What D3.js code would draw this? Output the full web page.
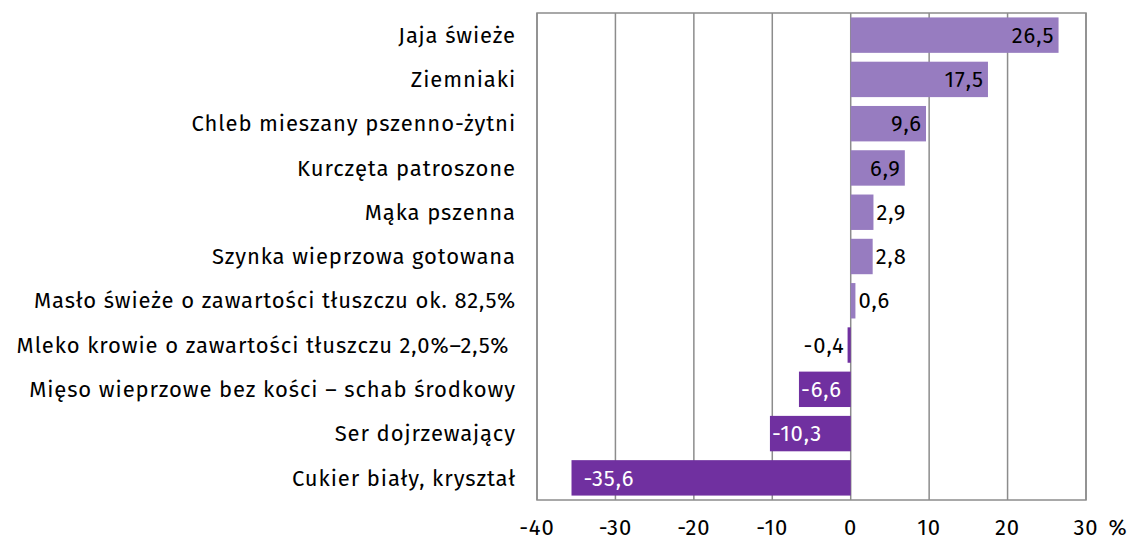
<!DOCTYPE html>
<html>
<head>
<style>
  body { margin: 0; background: #fff; }
  text { font-family: "Fira Sans", "Noto Sans", sans-serif; letter-spacing: 0.9px; }
</style>
</head>
<body>
<svg width="1129" height="540"></svg>
<script src="https://d3js.org/d3.v7.min.js"></script>
<script>
    const categories = [
        "Jaja świeże",
        "Ziemniaki",
        "Chleb mieszany pszenno-żytni",
        "Kurczęta patroszone",
        "Mąka pszenna",
        "Szynka wieprzowa gotowana",
        "Masło świeże o zawartości tłuszczu ok. 82,5%",
        "Mleko krowie o zawartości tłuszczu 2,0%–2,5% ",
        "Mięso wieprzowe bez kości – schab środkowy",
        "Ser dojrzewający",
        "Cukier biały, kryształ"
    ];
    const values = [26.5, 17.5, 9.6, 6.9, 2.9, 2.8, 0.6, -0.4, -6.6, -10.3, -35.6];
    const ticks = [-40, -30, -20, -10, 0, 10, 20, 30];

    const svg = d3.select("svg");
    const plotLeft = 537, plotRight = 1086, plotTop = 13, plotBottom = 500;
    const fontSize = 22;

    const x = d3.scaleLinear().domain([-40, 30]).range([plotLeft, plotRight]);
    const y = d3.scaleBand().domain(categories).range([plotTop, plotBottom]).paddingInner(0.2).paddingOuter(0.1);

    const fmt = v => String(v).replace(".", ",");

    // grid
    svg.append("g").selectAll("line").data(ticks).enter().append("line")
        .attr("x1", d => x(d)).attr("x2", d => x(d))
        .attr("y1", plotTop).attr("y2", plotBottom)
        .attr("stroke", "#8c8c8c").attr("stroke-width", 1.5);
    svg.append("rect")
        .attr("x", plotLeft).attr("y", plotTop).attr("width", plotRight - plotLeft).attr("height", plotBottom - plotTop)
        .attr("fill", "none").attr("stroke", "#8c8c8c").attr("stroke-width", 1.5);

    // bars
    svg.append("g").selectAll("rect").data(values).enter().append("rect")
        .attr("x", d => x(Math.min(0, d)))
        .attr("width", d => Math.abs(x(d) - x(0)))
        .attr("y", (d, i) => y(categories[i]))
        .attr("height", y.bandwidth())
        .attr("fill", d => d >= 0 ? "#977cc0" : "#7030a0");

    // value labels
    svg.append("g").selectAll("text").data(values).enter().append("text")
        .attr("y", (d, i) => y(categories[i]) + y.bandwidth() / 2)
        .attr("dy", "0.35em")
        .attr("font-size", fontSize)
        .each(function(d) {
            const w = Math.abs(x(d) - x(0));
            const inside = w > 45;
            const t = d3.select(this);
            if (d >= 0) {
                t.attr("x", inside ? x(d) - 4 : x(d) + 3)
                 .attr("text-anchor", inside ? "end" : "start")
                 .attr("fill", "#000");
            } else {
                t.attr("x", inside ? x(d) + (w > 200 ? 12 : 2) : x(d) - 3)
                 .attr("text-anchor", inside ? "start" : "end")
                 .attr("fill", inside ? "#fff" : "#000");
            }
        })
        .text(d => fmt(d));

    // category labels
    svg.append("g").selectAll("text").data(categories).enter().append("text")
        .attr("x", 516)
        .attr("y", d => y(d) + y.bandwidth() / 2)
        .attr("dy", "0.35em")
        .attr("text-anchor", "end")
        .attr("font-size", fontSize)
        .attr("xml:space", "preserve")
        .attr("fill", "#000")
        .text(d => d);

    // x tick labels
    svg.append("g").selectAll("text").data(ticks).enter().append("text")
        .attr("x", d => x(d))
        .attr("y", 527)
        .attr("dy", "0.35em")
        .attr("text-anchor", "middle")
        .attr("font-size", fontSize)
        .attr("fill", "#000")
        .text(d => d);
    svg.append("text")
        .attr("x", 1118).attr("y", 527).attr("dy", "0.35em")
        .attr("text-anchor", "middle").attr("font-size", fontSize)
        .text("%");
</script>
</body>
</html>
